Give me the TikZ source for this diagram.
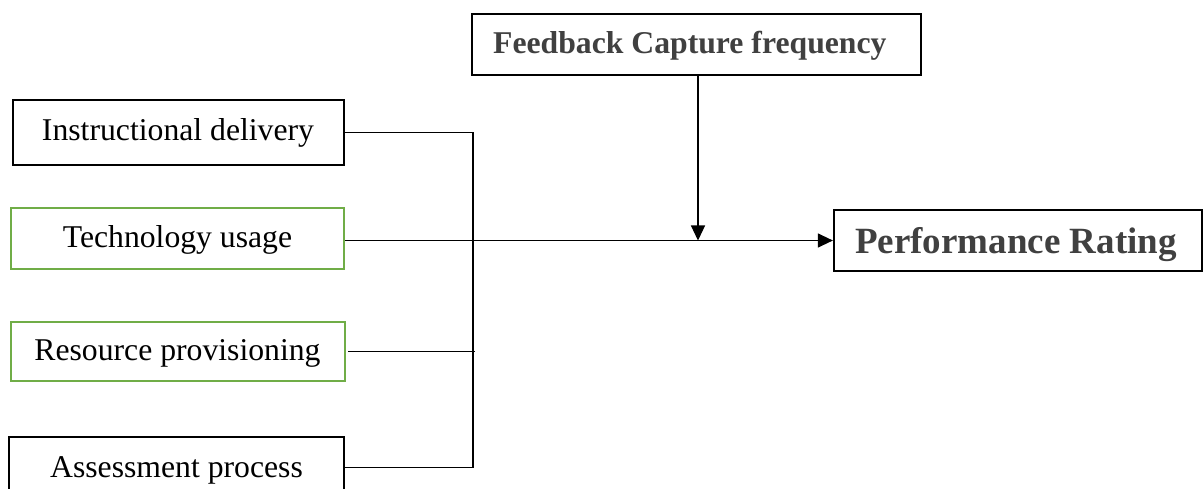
\documentclass[tikz,border=0pt]{standalone}
\usepackage{fontspec}
\setmainfont{Liberation Serif}
\usetikzlibrary{arrows.meta}
\definecolor{boxgreen}{HTML}{70AD47}
\definecolor{labelgray}{HTML}{404040}
\tikzset{
  blackbox/.style={draw=black, line width=2.2pt, fill=white, inner sep=0pt},
  greenbox/.style={draw=boxgreen, line width=2.2pt, fill=white, inner sep=0pt},
  factor/.style={font=\fontsize{31.7}{38}\selectfont, text=black, inner sep=0pt, anchor=base},
  headlabel/.style={font=\fontsize{31.7}{38}\selectfont\bfseries, text=labelgray, inner sep=0pt, anchor=base west},
  biglabel/.style={font=\fontsize{37}{44}\selectfont\bfseries, text=labelgray, inner sep=0pt, anchor=base west},
  conn/.style={draw=black, line width=1.2pt},
  arrowconn/.style={conn, -{Triangle[length=15pt,width=14pt]}}
}
\begin{document}
\begin{tikzpicture}[x=1pt, y=-1pt]
  \useasboundingbox (0,0) rectangle (1203,489);

  % predictor boxes
  \node[blackbox, minimum width=331pt, minimum height=65pt] (instr) at (178.5,132.5) {};
  \node[factor] (instrL) at (178,141) {Instructional delivery};
  \node[greenbox, minimum width=333pt, minimum height=61pt] (tech) at (177.5,238.5) {};
  \node[factor] (techL) at (177.5,248) {Technology usage};
  \node[greenbox, minimum width=334pt, minimum height=59pt] (res) at (178,351.5) {};
  \node[factor] (resL) at (177.5,360) {Resource provisioning};
  \node[blackbox, minimum width=335pt, minimum height=61pt] (assess) at (176.5,467.5) {};
  \node[factor] (assessL) at (176.5,477) {Assessment process};

  % moderator box
  \node[blackbox, minimum width=449pt, minimum height=61pt] (fb) at (696.5,44.5) {};
  \node[headlabel] (fbL) at (493,54) {Feedback Capture frequency};

  % outcome box
  \node[blackbox, minimum width=368pt, minimum height=61pt] (perf) at (1018,240.5) {};
  \node[biglabel] (perfL) at (855,254) {Performance Rating};

  % collecting bus
  \coordinate (bus) at (473,0);
  \draw[conn] (instr.east) -- (instr.east -| bus) -- (assess.east -| bus) -- (assess.east);
  \draw[conn] ([xshift=2pt]res.east) -- ([xshift=2pt]res.east -| bus);

  % main path and moderating arrow
  \draw[arrowconn] (tech.east |- perf.west) -- (perf.west);
  \draw[arrowconn] ([xshift=1.5pt]fb.south) -- ([xshift=1.5pt]fb.south |- perf.west);
\end{tikzpicture}
\end{document}
